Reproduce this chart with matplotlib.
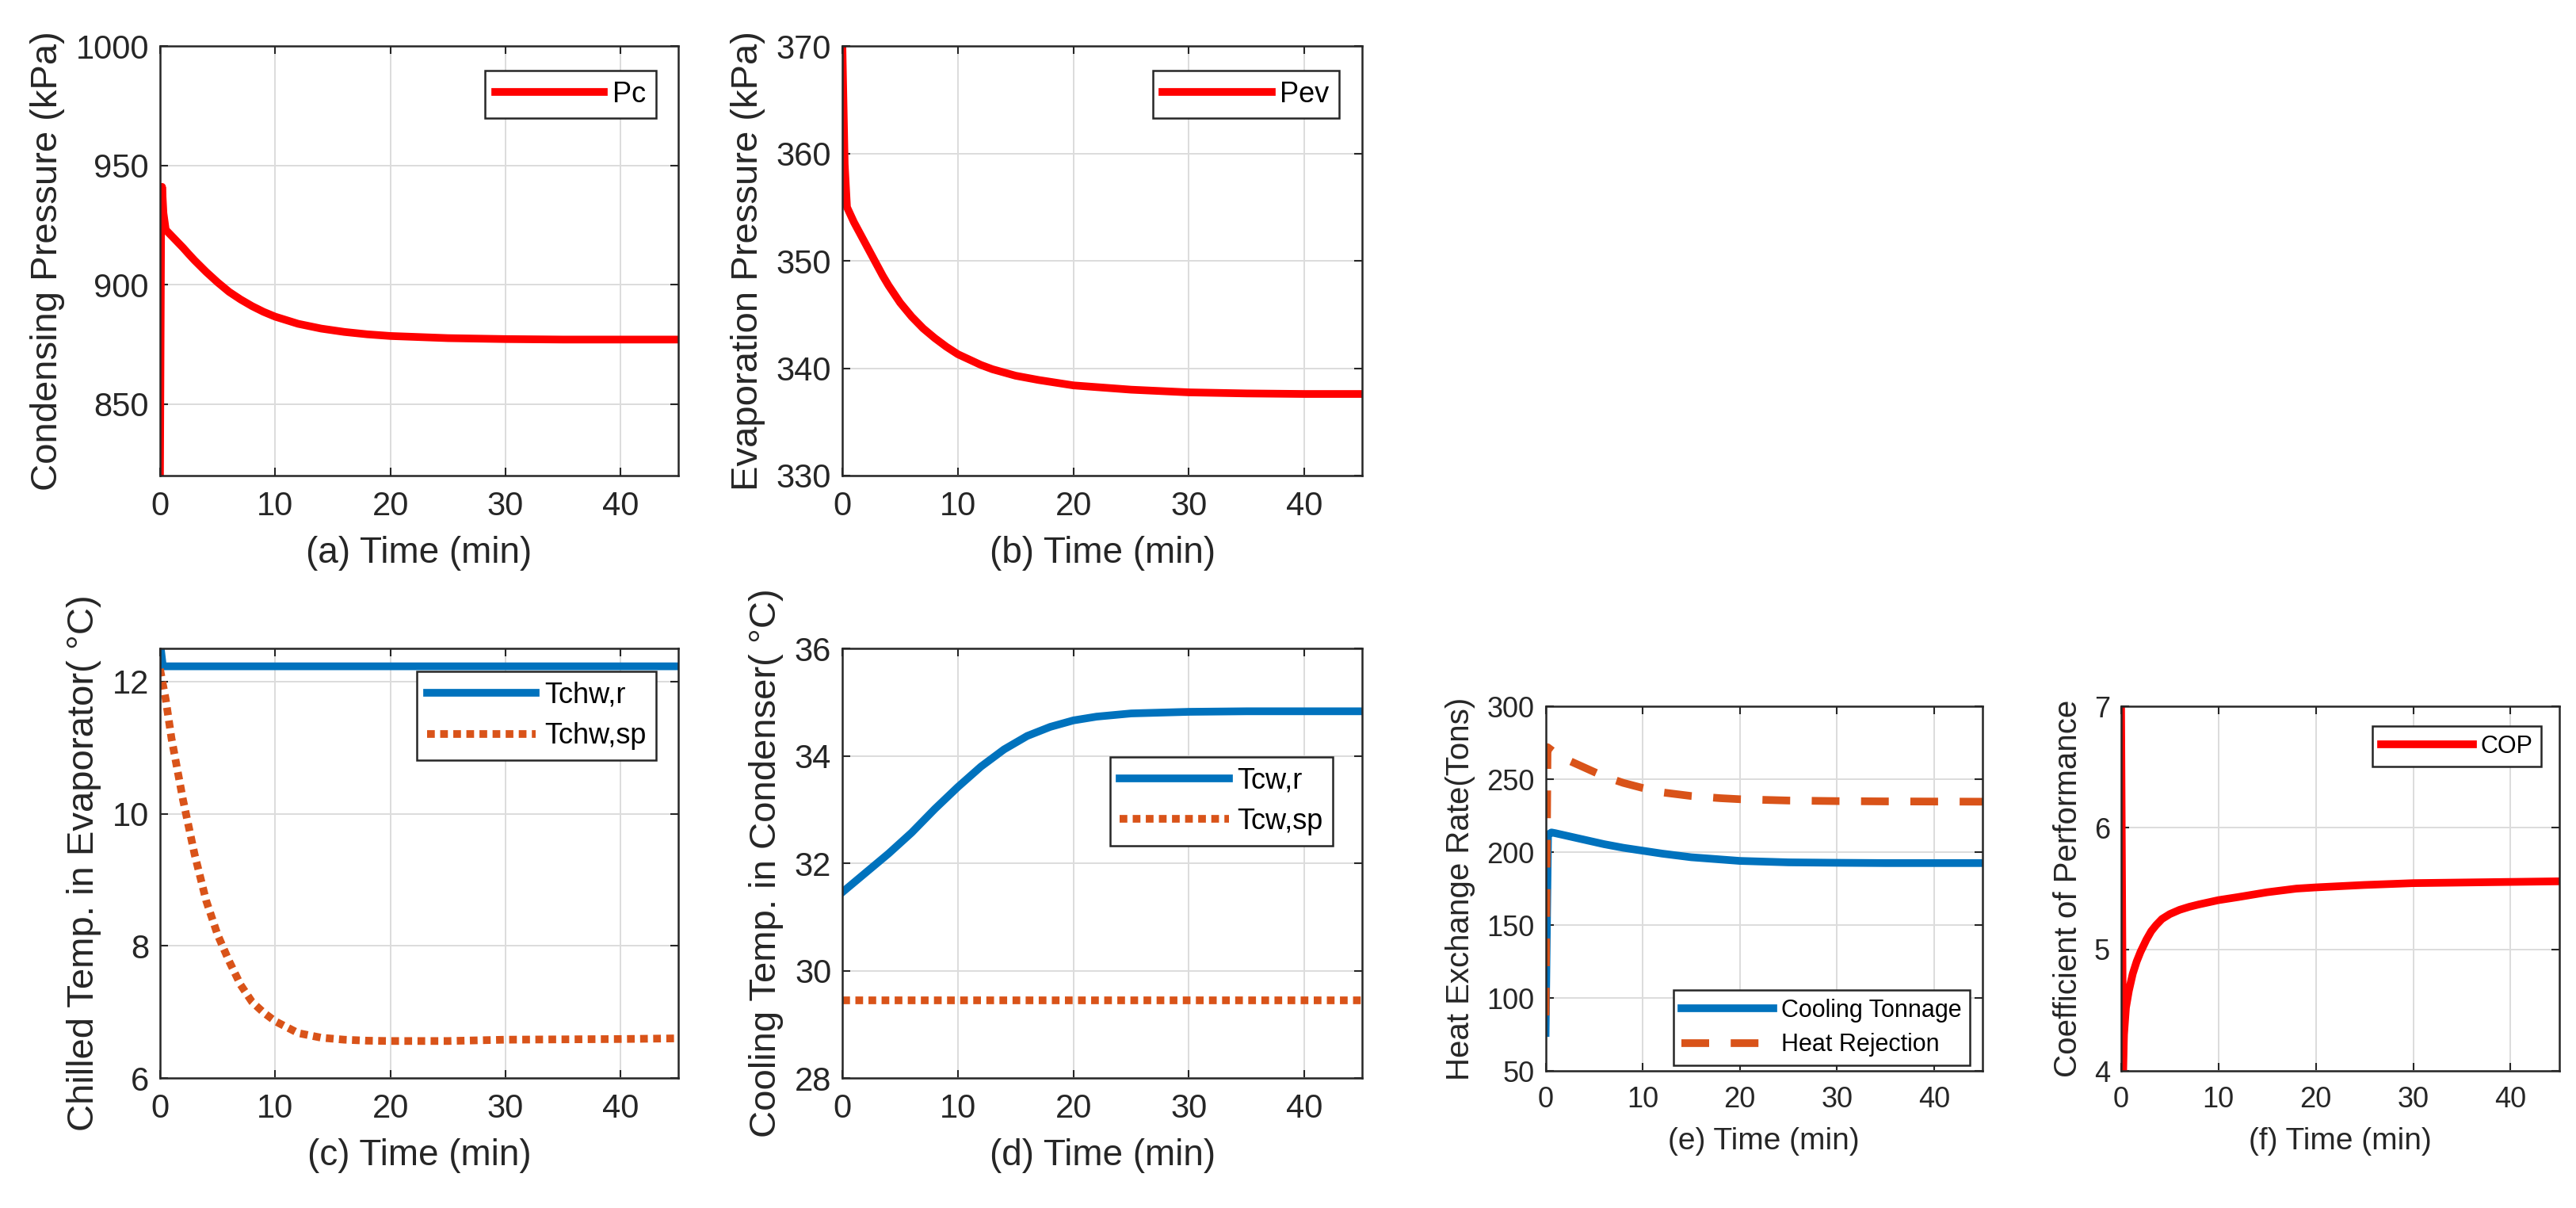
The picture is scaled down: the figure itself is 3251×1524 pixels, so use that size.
import matplotlib
matplotlib.use("Agg")
import matplotlib.pyplot as plt

plt.rcParams["font.family"] = ["Liberation Sans", "DejaVu Sans"]

# ---- data (time in minutes) ----
pc_t = [0, 0.1, 0.18, 0.3, 0.5, 1, 1.5, 2, 2.5, 3, 3.5, 4, 5, 6, 7, 8, 9, 10, 12, 14, 16, 18,
        20, 25, 30, 35, 40, 45]
pc_val = [820, 928, 941, 930, 923, 920.5, 918, 915.5, 912.8, 910.2, 907.8, 905.4, 901, 897,
          893.8, 891, 888.6, 886.6, 883.6, 881.6, 880.2, 879.2, 878.5, 877.6, 877.2, 877.0,
          877.0, 877.0]

pev_t = [0, 0.2, 0.4, 1, 1.5, 2, 2.5, 3, 3.5, 4, 5, 6, 7, 8, 9, 10, 11, 12, 13, 14, 15, 17,
         20, 25, 30, 35, 40, 45]
pev_val = [370, 359, 355, 353.6, 352.6, 351.6, 350.6, 349.6, 348.6, 347.7, 346.1, 344.8,
           343.7, 342.8, 342.0, 341.3, 340.8, 340.3, 339.9, 339.6, 339.3, 338.9, 338.4, 338.0,
           337.75, 337.65, 337.6, 337.6]

tchw_r_t = [0, 0.25, 45]
tchw_r = [12.6, 12.23, 12.23]
tchw_sp_t = [0, 0.5, 1, 2, 3, 4, 5, 6, 7, 8, 9, 10, 12, 14, 16, 18, 20, 25, 30, 35, 40, 45]
tchw_sp = [12.19, 11.73, 11.14, 10.21, 9.39, 8.69, 8.17, 7.77, 7.41, 7.15, 6.99, 6.86, 6.68,
           6.61, 6.58, 6.565, 6.56, 6.56, 6.58, 6.585, 6.59, 6.6]

tcw_r_t = [0, 2, 4, 6, 8, 10, 12, 14, 16, 18, 20, 22, 25, 30, 35, 40, 45]
tcw_r = [31.46, 31.82, 32.18, 32.57, 33.01, 33.42, 33.80, 34.12, 34.37, 34.54, 34.66, 34.73,
         34.79, 34.82, 34.83, 34.83, 34.83]
tcw_sp_t = [0, 45]
tcw_sp = [29.45, 29.45]

tons_t = [0, 0.25, 0.6, 1, 2, 3, 4, 5, 6, 8, 10, 12, 15, 18, 20, 25, 30, 35, 40, 45]
tons_cool = [76, 212, 213.5, 213, 211.5, 210, 208.5, 207, 205.5, 203, 201, 199, 196.5, 195,
             194, 193, 192.7, 192.5, 192.5, 192.5]
rej_t = [0, 0.2, 1, 2, 4, 6, 8, 10, 12, 15, 18, 20, 25, 30, 35, 40, 45]
tons_rej = [88, 272, 268, 264, 258, 252, 247.5, 244, 241, 238.5, 237, 236.3, 235.4, 235,
            234.8, 234.7, 234.6]

cop_t = [0, 0.2, 0.3, 0.5, 0.8, 1.2, 1.6, 2, 2.6, 3.1, 3.6, 4.2, 5, 6, 7, 8, 10, 12, 15, 18,
         20, 25, 30, 40, 45]
cop_val = [7.0, 4.0, 4.3, 4.52, 4.66, 4.8, 4.9, 4.98, 5.08, 5.15, 5.2, 5.25, 5.29, 5.325,
           5.35, 5.37, 5.405, 5.43, 5.47, 5.5, 5.51, 5.53, 5.545, 5.555, 5.56]

time_ticks = [0, 10, 20, 30, 40]

BLUE = "#0072BD"
ORANGE = "#D95319"
RED = "#FF0000"
DARK = "#262626"


def style_axes(ax, ylim, yticks, xlabel, ylabel, tick_fs, xl_fs, yl_fs):
    ax.set_xlim(0, 45)
    ax.set_ylim(*ylim)
    ax.set_xticks(time_ticks)
    ax.set_yticks(yticks)
    ax.grid(True, color="#dcdcdc", linewidth=1.4)
    ax.set_axisbelow(True)
    ax.tick_params(direction="in", length=7, width=1.5, colors=DARK, labelsize=tick_fs,
                   top=True, right=True)
    ax.tick_params(axis="x", pad=14)
    ax.tick_params(axis="y", pad=10)
    for sp in ax.spines.values():
        sp.set_linewidth(1.8)
        sp.set_color(DARK)
    ax.set_xlabel(xlabel, fontsize=xl_fs, color=DARK, labelpad=12)
    ax.set_ylabel(ylabel, fontsize=yl_fs, color=DARK, labelpad=10)


def add_legend(ax, loc, anchor, fs):
    leg = ax.legend(loc=loc, bbox_to_anchor=anchor, fontsize=fs, handlelength=3.8,
                    handletextpad=0.3, borderaxespad=0, borderpad=0.35, labelspacing=0.45,
                    fancybox=False, framealpha=1, edgecolor=DARK)
    leg.get_frame().set_linewidth(1.8)
    return leg


fig = plt.figure(figsize=(32.51, 15.24), dpi=100)

ax_a = fig.add_axes([0.0621, 0.6063, 0.2012, 0.3556])
ax_b = fig.add_axes([0.3270, 0.6063, 0.2018, 0.3556])
ax_c = fig.add_axes([0.0621, 0.1076, 0.2012, 0.3556])
ax_d = fig.add_axes([0.3270, 0.1076, 0.2018, 0.3556])
ax_e = fig.add_axes([0.6000, 0.1135, 0.1696, 0.3018])
ax_f = fig.add_axes([0.8234, 0.1135, 0.1701, 0.3018])

lw = 7
dotted = (0, (1, 0.7))
dashed = (0, (3.6, 2.8))

# (a)
ax_a.plot(pc_t, pc_val, color=RED, lw=lw, label="Pc")
style_axes(ax_a, (820, 1000), [850, 900, 950, 1000], "(a) Time (min)",
           "Condensing Pressure (kPa)", 30, 33, 34)
add_legend(ax_a, "upper right", (0.957, 0.943), 26)

# (b)
ax_b.plot(pev_t, pev_val, color=RED, lw=lw, label="Pev")
style_axes(ax_b, (330, 370), [330, 340, 350, 360, 370], "(b) Time (min)",
           "Evaporation Pressure (kPa)", 30, 33, 34)
add_legend(ax_b, "upper right", (0.956, 0.943), 26)

# (c)
ax_c.plot(tchw_r_t, tchw_r, color=BLUE, lw=lw, label="Tchw,r")
ax_c.plot(tchw_sp_t, tchw_sp, color=ORANGE, lw=lw, linestyle=dotted, label="Tchw,sp")
style_axes(ax_c, (6, 12.5), [6, 8, 10, 12], "(c) Time (min)",
           "Chilled Temp. in Evaporator( °C)", 30, 33, 34)
add_legend(ax_c, "upper right", (0.957, 0.946), 26)

# (d)
ax_d.plot(tcw_r_t, tcw_r, color=BLUE, lw=lw, label="Tcw,r")
ax_d.plot(tcw_sp_t, tcw_sp, color=ORANGE, lw=lw, linestyle=dotted, label="Tcw,sp")
style_axes(ax_d, (28, 36), [28, 30, 32, 34, 36], "(d) Time (min)",
           "Cooling Temp. in Condenser( °C)", 30, 33, 34)
add_legend(ax_d, "upper right", (0.944, 0.747), 26)

# (e)
ax_e.plot(tons_t, tons_cool, color=BLUE, lw=lw, label="Cooling Tonnage")
ax_e.plot(rej_t, tons_rej, color=ORANGE, lw=lw, linestyle=dashed, label="Heat Rejection")
style_axes(ax_e, (50, 300), [50, 100, 150, 200, 250, 300], "(e) Time (min)",
           "Heat Exchange Rate(Tons)", 26, 28, 29)
add_legend(ax_e, "lower right", (0.971, 0.015), 22)

# (f)
ax_f.plot(cop_t, cop_val, color=RED, lw=lw, label="COP")
style_axes(ax_f, (4, 7), [4, 5, 6, 7], "(f) Time (min)",
           "Coefficient of Performance", 26, 28, 29)
add_legend(ax_f, "upper right", (0.958, 0.946), 22)

fig.savefig("out.png", dpi=100, facecolor="white")
